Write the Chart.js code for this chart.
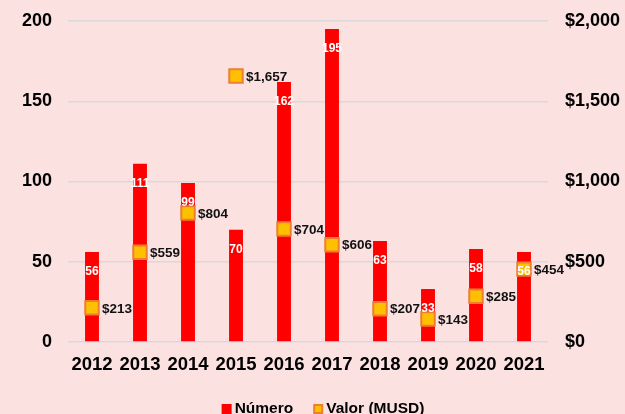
<!DOCTYPE html>
<html>
<head>
<meta charset="utf-8">
<script src="https://cdn.jsdelivr.net/npm/chart.js@4.4.0/dist/chart.umd.min.js"></script>
<style>
  html, body { margin:0; padding:0; background:#FCE1E1; }
  #wrap { width:625px; height:414px; }
</style>
</head>
<body>
<div id="wrap"><canvas id="c" width="625" height="414"></canvas></div>
<script>
const years = ['2012','2013','2014','2015','2016','2017','2018','2019','2020','2021'];
const numero = [56, 111, 99, 70, 162, 195, 63, 33, 58, 56];
const valor = [213, 559, 804, 1657, 704, 606, 207, 143, 285, 454];

const FONT = 'Arial, "Liberation Sans", sans-serif';
const money = v => '$' + v.toLocaleString('en-US');

// draw the value labels like the excel version
const labelPlugin = {
  id: 'labels',
  afterDatasetsDraw(chart) {
    const ctx = chart.ctx;
    ctx.save();
    // numbers inside bars
    const bars = chart.getDatasetMeta(1).data;
    ctx.font = 'bold 12px ' + FONT;
    ctx.fillStyle = '#fff';
    ctx.textAlign = 'center';
    ctx.textBaseline = 'middle';
    bars.forEach((b, i) => ctx.fillText(numero[i], b.x, b.y + 20));
    // values beside markers
    const pts = chart.getDatasetMeta(0).data;
    ctx.font = 'bold 13.5px ' + FONT;
    ctx.fillStyle = '#111';
    ctx.textAlign = 'left';
    pts.forEach((p, i) => ctx.fillText(money(valor[i]), p.x + 10, p.y + 1));
    ctx.restore();
  }
};

// legend drawn by hand, sits partly under the bottom edge like the original
const legendPlugin = {
  id: 'bottomLegend',
  afterDraw(chart) {
    const ctx = chart.ctx;
    const ds = chart.data.datasets;
    const items = [ds[1], ds[0]];
    ctx.save();
    ctx.font = 'bold 15.5px ' + FONT;
    ctx.textBaseline = 'middle';
    ctx.textAlign = 'left';
    const box = 10, gap = 3, between = 20;
    const widths = items.map(d => ctx.measureText(d.label).width);
    const total = widths.reduce((a, w) => a + box + gap + w, 0) + between;
    let x = 323 - total / 2;
    const y = 409;
    items.forEach((d, i) => {
      ctx.fillStyle = d.type === 'bar' ? d.backgroundColor : d.pointBorderColor;
      ctx.fillRect(x, y - box / 2, box, box);
      if (d.type !== 'bar') {
        ctx.fillStyle = d.pointBackgroundColor;
        ctx.fillRect(x + 2, y - box / 2 + 2, box - 4, box - 4);
      }
      x += box + gap;
      ctx.fillStyle = '#000';
      ctx.fillText(d.label, x, y);
      x += widths[i] + between;
    });
    ctx.restore();
  }
};

// fixed axis sizes, no extra label padding on top/bottom
const fixY = w => s => { s.width = w; s.paddingTop = 0; s.paddingBottom = 0; };

new Chart(document.getElementById('c'), {
  data: {
    labels: years,
    datasets: [
      { type:'line', label:'Valor (MUSD)', data: valor, yAxisID:'y1', showLine:false,
        pointStyle:'rect', pointRadius:9.5, pointBackgroundColor:'#FFC000',
        pointBorderColor:'#ED7D31', pointBorderWidth:2,
        backgroundColor:'#FFC000', borderColor:'#ED7D31', borderWidth:2, order:0 },
      { type:'bar', label:'Número', data: numero, yAxisID:'y', backgroundColor:'#FF0000',
        borderWidth:0, barPercentage:0.58, categoryPercentage:0.5, order:1 }
    ]
  },
  options: {
    responsive:false, animation:false,
    layout: { autoPadding:false, padding: { top: 21, right: 4, bottom: 34, left: 0 } },
    plugins: {
      tooltip: { enabled:false },
      legend: { display:false }
    },
    scales: {
      x: {
        grid: { display:false },
        border: { display:false },
        ticks: { color:'#000', font:{ family:FONT, size:18.5, weight:'bold' }, padding:4 },
        afterFit(s) { s.height = 38; }
      },
      y: {
        position:'left', min:0, max:200,
        ticks: { stepSize:50, color:'#000', font:{ family:FONT, size:18, weight:'bold' }, padding:16 },
        grid: { color:'#D9D9D9', lineWidth:1.5, drawTicks:false },
        border: { display:false },
        afterFit: fixY(68)
      },
      y1: {
        position:'right', min:0, max:2000,
        ticks: { stepSize:500, color:'#000', font:{ family:FONT, size:18, weight:'bold' }, padding:17,
                 callback: v => money(v) },
        grid: { display:false, drawTicks:false },
        border: { display:false },
        afterFit: fixY(73)
      }
    }
  },
  plugins: [labelPlugin, legendPlugin]
});
</script>
</body>
</html>
